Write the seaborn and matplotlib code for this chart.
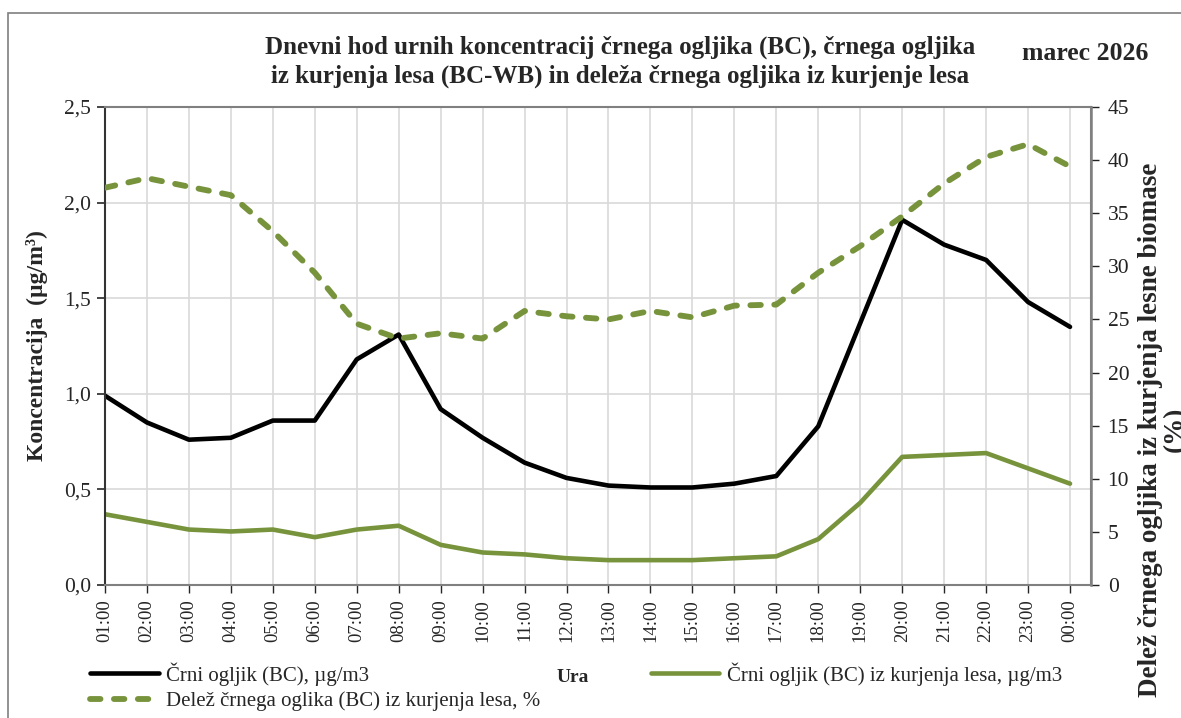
import numpy as np
import pandas as pd
import matplotlib
matplotlib.use("Agg")
import matplotlib.pyplot as plt
import seaborn as sns
from matplotlib.ticker import FuncFormatter, MultipleLocator
from matplotlib.patches import Rectangle

# ----------------------------------------
# data
# ----------------------------------------
hours = ["01:00", "02:00", "03:00", "04:00", "05:00", "06:00", "07:00", "08:00",
         "09:00", "10:00", "11:00", "12:00", "13:00", "14:00", "15:00", "16:00",
         "17:00", "18:00", "19:00", "20:00", "21:00", "22:00", "23:00", "00:00"]

bc = [0.99, 0.85, 0.76, 0.77, 0.86, 0.86, 1.18, 1.31, 0.92, 0.77, 0.64, 0.56,
      0.52, 0.51, 0.51, 0.53, 0.57, 0.83, 1.37, 1.91, 1.78, 1.70, 1.48, 1.35]

bc_wb = [0.37, 0.33, 0.29, 0.28, 0.29, 0.25, 0.29, 0.31, 0.21, 0.17, 0.16, 0.14,
         0.13, 0.13, 0.13, 0.14, 0.15, 0.24, 0.43, 0.67, 0.68, 0.69, 0.61, 0.53]

share_wb = [37.4, 38.3, 37.5, 36.7, 33.3, 29.4, 24.6, 23.2, 23.7, 23.2, 25.8, 25.3,
            25.0, 25.8, 25.2, 26.3, 26.4, 29.4, 31.9, 34.7, 37.8, 40.3, 41.5, 39.4]

lbl_bc = "Črni ogljik (BC), µg/m3"
lbl_wb = "Črni ogljik (BC) iz kurjenja lesa, µg/m3"
lbl_share = "Delež črnega oglika (BC) iz kurjenja lesa, %"

GREEN = "#77933C"

df = pd.DataFrame({"x": np.arange(len(hours)), "bc": bc, "bc_wb": bc_wb, "share": share_wb})

sns.set_theme(style="white")
plt.rcParams["font.family"] = ["Liberation Serif", "DejaVu Serif"]

fig = plt.figure(figsize=(11.81, 7.18), dpi=100)
ax = fig.add_axes([105 / 1181, 1 - 585 / 718, (1091 - 105) / 1181, (585 - 107) / 718])
ax2 = ax.twinx()

sns.lineplot(data=df, x="x", y="bc", ax=ax, color="black", linewidth=3.3, label=lbl_bc,
             legend=False)
sns.lineplot(data=df, x="x", y="bc_wb", ax=ax, color=GREEN, linewidth=3.3, label=lbl_wb,
             legend=False)
sns.lineplot(data=df, x="x", y="share", ax=ax2, color=GREEN, linewidth=4.2,
             label=lbl_share, legend=False, dashes=False)
ax2.lines[0].set_linestyle((0, (1.8, 2.3)))
for ln in ax.lines + ax2.lines:
    ln.set_solid_joinstyle("round")
    ln.set_solid_capstyle("round")
    ln.set_dash_capstyle("round")
    ln.set_dash_joinstyle("round")

# axes
ax.set_xlim(0, 23.5)
ax.set_ylim(0, 2.5)
ax2.set_ylim(0, 45)
ax.yaxis.set_major_locator(MultipleLocator(0.5))
ax2.yaxis.set_major_locator(MultipleLocator(5))
ax.yaxis.set_major_formatter(FuncFormatter(lambda v, p: f"{v:.1f}".replace(".", ",")))
ax.set_xticks(df["x"])
ax.set_xticklabels(hours, rotation=90, fontsize=13.5)
ax.tick_params(axis="y", labelsize=15.5, length=6, width=1.2, direction="out", left=True, pad=4)
ax.tick_params(axis="x", length=6, width=1.0, direction="out", bottom=True, pad=4)
ax2.tick_params(axis="y", labelsize=15.5, length=6, width=1.0, direction="out", right=True,
                colors="#222222", pad=6)

ax.grid(True, color="#d9d9d9", linewidth=1.2)
ax.set_axisbelow(True)
for s in ["top", "right"]:
    ax.spines[s].set_color("#808080")
    ax.spines[s].set_linewidth(1.5)
ax.spines["left"].set_color("#333333")
ax.spines["left"].set_linewidth(1.5)
ax.spines["bottom"].set_color("#808080")
ax.spines["bottom"].set_linewidth(1.5)
ax2.spines["right"].set_color("#808080")
ax2.spines["right"].set_linewidth(1.8)
ax2.spines["top"].set_visible(False)
ax2.spines["left"].set_visible(False)
ax2.spines["bottom"].set_visible(False)

ax.set_ylabel("Koncentracija  (µg/m³)", fontsize=17, fontweight="bold")
ax.yaxis.set_label_coords(-0.058, 0.5)
ax2.set_ylabel("Delež črnega ogljika iz kurjenja lesne biomase\n(%)", fontsize=19.5,
               fontweight="bold", linespacing=1.0)
ax2.yaxis.set_label_coords(1.048, 0.325)
ax.set_xlabel("")

# titles
fig.text(620 / 1181, 1 - 62 / 718,
         "Dnevni hod urnih koncentracij črnega ogljika (BC), črnega ogljika\n"
         "iz kurjenja lesa (BC-WB) in deleža črnega ogljika iz kurjenje lesa",
         ha="center", va="center", fontsize=18, fontweight="bold", linespacing=1.3)
fig.text(1085 / 1181, 1 - 54 / 718, "marec 2026", ha="center", va="center",
         fontsize=18.5, fontweight="bold")
fig.text(573 / 1181, 1 - 678 / 718, "Ura", ha="center", va="center", fontsize=14,
         fontweight="bold")

# legend below the plot
h1, l1 = ax.get_legend_handles_labels()
h2, l2 = ax2.get_legend_handles_labels()
fig.legend([h1[0], h2[0], h1[1]], [l1[0], l2[0], l1[1]], ncol=2,
           loc="upper left", bbox_to_anchor=(90 / 1181, 1 - 662 / 718),
           frameon=False, fontsize=15, handlelength=3.3, handletextpad=0.35,
           columnspacing=5.3, labelspacing=0.3, borderaxespad=0, borderpad=0)

# outer frame of the chart area
fig.patches.append(Rectangle((8 / 1181, -0.05), 1.2, 1.05 - 13 / 718,
                             transform=fig.transFigure, fill=False,
                             edgecolor="#7f7f7f", linewidth=1.2))

fig.savefig("out.png", dpi=100)
